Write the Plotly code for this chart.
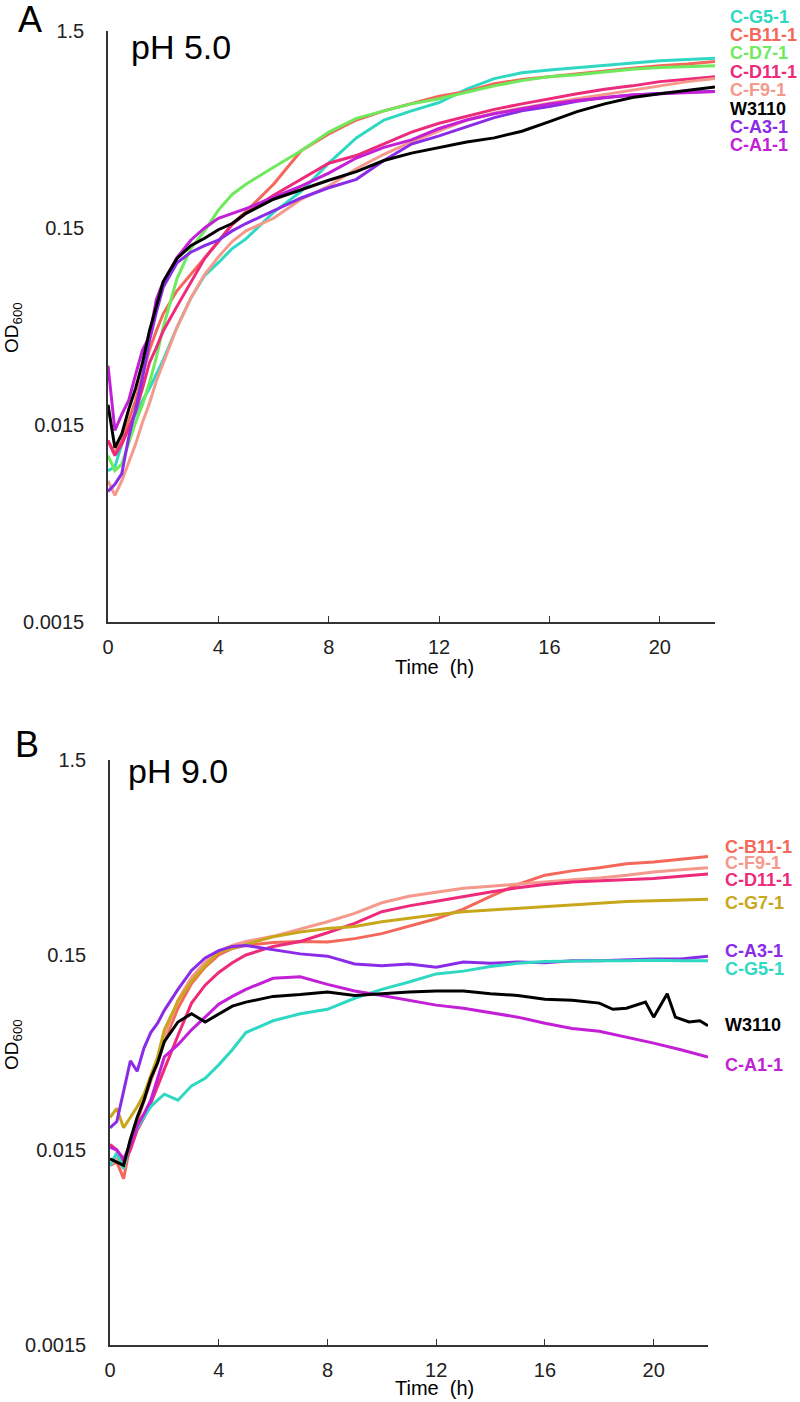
import math
import plotly.graph_objects as go

# ---------------- data ----------------
time_h = [0, 0.25, 0.5, 0.75, 1, 1.25, 1.5, 1.75, 2, 2.5, 3, 3.5, 4, 4.5, 5,
          6, 7, 8, 9, 10, 11, 12, 13, 14, 15, 16, 17, 18, 19, 20, 21, 22]

y_tick_vals = [0.0015, 0.015, 0.15, 1.5]
y_tick_text = ["0.0015", "0.015", "0.15", "1.5"]
x_tick_vals = [0, 4, 8, 12, 16, 20]

# Panel A (pH 5.0)
a_g5 = [0.0088, 0.0092, 0.012, 0.0145, 0.017, 0.020, 0.023, 0.027, 0.032, 0.047, 0.066, 0.086, 0.100, 0.118, 0.132,
        0.18, 0.23, 0.32, 0.43, 0.53, 0.59, 0.65, 0.76, 0.86, 0.92, 0.95, 0.975, 1.0, 1.03, 1.06, 1.075, 1.09]
a_b11 = [0.0125, 0.0108, 0.0125, 0.016, 0.020, 0.027, 0.036, 0.045, 0.055, 0.072, 0.087, 0.105, 0.128, 0.157, 0.182,
         0.25, 0.37, 0.45, 0.53, 0.59, 0.645, 0.70, 0.74, 0.81, 0.85, 0.88, 0.91, 0.94, 0.97, 1.0, 1.02, 1.05]
a_d7 = [0.0105, 0.0088, 0.0095, 0.012, 0.0155, 0.019, 0.0245, 0.033, 0.047, 0.083, 0.118, 0.145, 0.185, 0.222, 0.25,
        0.305, 0.37, 0.46, 0.54, 0.59, 0.64, 0.68, 0.73, 0.79, 0.84, 0.88, 0.90, 0.93, 0.96, 0.98, 0.99, 1.0]
a_d11 = [0.0125, 0.0105, 0.012, 0.0145, 0.0175, 0.023, 0.031, 0.037, 0.045, 0.060, 0.080, 0.105, 0.128, 0.156, 0.178,
         0.22, 0.265, 0.32, 0.35, 0.40, 0.46, 0.51, 0.555, 0.60, 0.64, 0.68, 0.72, 0.76, 0.79, 0.83, 0.855, 0.88]
a_f9 = [0.0078, 0.0066, 0.0078, 0.0097, 0.012, 0.0155, 0.0193, 0.025, 0.031, 0.047, 0.066, 0.087, 0.107, 0.128, 0.145,
        0.168, 0.21, 0.245, 0.30, 0.355, 0.41, 0.465, 0.53, 0.575, 0.61, 0.645, 0.68, 0.715, 0.755, 0.795, 0.83, 0.86]
a_w3110 = [0.019, 0.0115, 0.0135, 0.018, 0.023, 0.031, 0.045, 0.060, 0.080, 0.105, 0.122, 0.133, 0.147, 0.158, 0.178,
           0.21, 0.235, 0.262, 0.29, 0.33, 0.36, 0.385, 0.41, 0.43, 0.465, 0.52, 0.585, 0.64, 0.69, 0.72, 0.75, 0.78]
a_a3 = [0.0069, 0.0075, 0.0085, 0.013, 0.018, 0.026, 0.040, 0.056, 0.075, 0.100, 0.113, 0.122, 0.130, 0.145, 0.158,
        0.183, 0.213, 0.24, 0.265, 0.33, 0.40, 0.44, 0.49, 0.545, 0.59, 0.62, 0.66, 0.69, 0.71, 0.725, 0.735, 0.74]
a_a1 = [0.030, 0.0141, 0.017, 0.020, 0.027, 0.036, 0.042, 0.065, 0.080, 0.106, 0.130, 0.150, 0.168, 0.178, 0.188,
        0.215, 0.245, 0.285, 0.34, 0.385, 0.42, 0.48, 0.53, 0.57, 0.605, 0.64, 0.665, 0.69, 0.71, 0.72, 0.73, 0.74]

# Panel B (pH 9.0)
b_b11 = [0.0125, 0.013, 0.0107, 0.016, 0.021, 0.027, 0.034, 0.042, 0.054, 0.080, 0.107, 0.130, 0.150, 0.162, 0.168,
         0.174, 0.176, 0.175, 0.182, 0.193, 0.21, 0.23, 0.258, 0.30, 0.345, 0.385, 0.405, 0.42, 0.44, 0.45, 0.465, 0.48]
b_f9 = [0.0125, 0.0135, 0.012, 0.017, 0.022, 0.028, 0.035, 0.044, 0.057, 0.088, 0.115, 0.138, 0.157, 0.168, 0.176,
        0.187, 0.204, 0.222, 0.245, 0.278, 0.30, 0.315, 0.33, 0.338, 0.345, 0.355, 0.365, 0.372, 0.385, 0.40, 0.41, 0.42]
b_d11 = [0.016, 0.015, 0.0128, 0.015, 0.019, 0.022, 0.026, 0.032, 0.039, 0.058, 0.085, 0.105, 0.122, 0.137, 0.150,
         0.166, 0.176, 0.195, 0.218, 0.25, 0.268, 0.283, 0.30, 0.316, 0.332, 0.345, 0.355, 0.36, 0.365, 0.37, 0.38, 0.39]
b_g7 = [0.022, 0.0245, 0.0195, 0.022, 0.025, 0.029, 0.036, 0.045, 0.062, 0.087, 0.110, 0.132, 0.155, 0.163, 0.170,
        0.186, 0.197, 0.205, 0.21, 0.222, 0.232, 0.241, 0.25, 0.255, 0.262, 0.267, 0.272, 0.277, 0.282, 0.285, 0.288, 0.29]
b_a3 = [0.0195, 0.021, 0.030, 0.043, 0.038, 0.050, 0.060, 0.067, 0.078, 0.100, 0.125, 0.145, 0.158, 0.166, 0.168,
        0.160, 0.152, 0.148, 0.135, 0.132, 0.135, 0.130, 0.138, 0.136, 0.138, 0.137, 0.140, 0.140, 0.142, 0.143, 0.143, 0.148]
b_g5 = [0.0125, 0.0145, 0.012, 0.017, 0.0195, 0.022, 0.025, 0.027, 0.029, 0.027, 0.032, 0.035, 0.041, 0.049, 0.060,
        0.069, 0.075, 0.079, 0.090, 0.100, 0.109, 0.120, 0.124, 0.131, 0.136, 0.139, 0.140, 0.140, 0.140, 0.141, 0.140, 0.140]
b_a1 = [0.0155, 0.015, 0.0135, 0.016, 0.020, 0.023, 0.027, 0.035, 0.045, 0.052, 0.062, 0.072, 0.084, 0.092, 0.100,
        0.114, 0.116, 0.106, 0.098, 0.093, 0.088, 0.083, 0.080, 0.076, 0.072, 0.067, 0.063, 0.061, 0.057, 0.053, 0.049, 0.045]
b_w3110_time = [0, 0.25, 0.5, 0.75, 1, 1.25, 1.5, 1.75, 2, 2.5, 3, 3.5, 4, 4.5, 5, 6, 7, 8, 9, 10, 11, 12, 13,
                14, 15, 16, 17, 18, 18.5, 19, 19.7, 20.0, 20.5, 20.8, 21.3, 21.7, 22]
b_w3110 = [0.0135, 0.013, 0.0125, 0.017, 0.022, 0.027, 0.035, 0.042, 0.054, 0.068, 0.075, 0.068, 0.075, 0.082, 0.086,
           0.092, 0.094, 0.097, 0.093, 0.095, 0.097, 0.098, 0.098, 0.095, 0.093, 0.089, 0.088, 0.085, 0.079, 0.080,
           0.086, 0.072, 0.095, 0.072, 0.068, 0.069, 0.065]

# ---------------- styles ----------------
COL = {
    "C-G5-1": "#2ED8C3", "C-B11-1": "#F4675A", "C-D7-1": "#6EEA5C", "C-D11-1": "#EE2A7B",
    "C-F9-1": "#F4998B", "W3110": "#000000", "C-A3-1": "#8A2BE8", "C-A1-1": "#C21FD6",
    "C-G7-1": "#C9A71C",
}
FONT = "Arial, Liberation Sans, sans-serif"
W, H = 800, 1402


def px(x):
    return x / W


def py(y):
    return 1 - y / H


panel_a = [("C-G5-1", time_h, a_g5), ("C-B11-1", time_h, a_b11), ("C-D7-1", time_h, a_d7),
           ("C-D11-1", time_h, a_d11), ("C-F9-1", time_h, a_f9), ("C-A3-1", time_h, a_a3),
           ("C-A1-1", time_h, a_a1), ("W3110", time_h, a_w3110)]
panel_b = [("C-B11-1", time_h, b_b11), ("C-F9-1", time_h, b_f9), ("C-D11-1", time_h, b_d11),
           ("C-G7-1", time_h, b_g7), ("C-A3-1", time_h, b_a3), ("C-G5-1", time_h, b_g5),
           ("C-A1-1", time_h, b_a1), ("W3110", b_w3110_time, b_w3110)]

fig = go.Figure()
for name, t, v in panel_a:
    fig.add_trace(go.Scatter(x=t, y=v, mode="lines", name=name, xaxis="x", yaxis="y",
                             line=dict(color=COL[name], width=3), showlegend=False))
for name, t, v in panel_b:
    fig.add_trace(go.Scatter(x=t, y=v, mode="lines", name=name, xaxis="x2", yaxis="y2",
                             line=dict(color=COL[name], width=3), showlegend=False))

yrange = [math.log10(0.0015), math.log10(1.5)]
common_x = dict(range=[0, 22], tickvals=x_tick_vals, ticks="inside", ticklen=6, tickwidth=1.3,
                tickcolor="#333", showline=True, linecolor="#333", linewidth=1.6, showgrid=False,
                zeroline=False, tickfont=dict(family=FONT, size=20, color="#222"),
                ticklabelstandoff=6, automargin=False)
common_y = dict(type="log", range=yrange, tickvals=y_tick_vals, ticktext=y_tick_text, ticks="",
                showline=True, linecolor="#333", linewidth=1.6, showgrid=False, zeroline=False,
                tickfont=dict(family=FONT, size=20, color="#222"), ticklabelstandoff=18,
                automargin=False)

fig.update_layout(
    width=W, height=H, margin=dict(l=0, r=0, t=0, b=0, pad=0, autoexpand=False),
    paper_bgcolor="white", plot_bgcolor="white", showlegend=False,
    xaxis=dict(domain=[px(108), px(715)], anchor="y", **common_x),
    yaxis=dict(domain=[py(622), py(31)], anchor="x", **common_y),
    xaxis2=dict(domain=[px(110), px(708)], anchor="y2", **common_x),
    yaxis2=dict(domain=[py(1345), py(760)], anchor="x2", **common_y),
)

ann = []
# panel letters & titles
ann.append(dict(text="A", x=px(30), y=py(20), font=dict(size=36, family=FONT, color="#000")))
ann.append(dict(text="B", x=px(27), y=py(744), font=dict(size=36, family=FONT, color="#000")))
ann.append(dict(text="pH 5.0", x=px(181), y=py(47), font=dict(size=34, family=FONT, color="#000")))
ann.append(dict(text="pH 9.0", x=px(178), y=py(771), font=dict(size=34, family=FONT, color="#000")))
# axis titles
for yy in (667, 1388):
    ann.append(dict(text="Time  (h)", x=px(434), y=py(yy), font=dict(size=20, family=FONT, color="#000")))
for yy in (328, 1045):
    ann.append(dict(text="OD<sub>600</sub>", x=px(13), y=py(yy), textangle=-90,
                    font=dict(size=19, family=FONT, color="#000")))

# end labels
labels_a = [("C-G5-1", 17), ("C-B11-1", 35), ("C-D7-1", 53), ("C-D11-1", 72), ("C-F9-1", 90),
            ("W3110", 109), ("C-A3-1", 127), ("C-A1-1", 145)]
labels_b = [("C-B11-1", 847), ("C-F9-1", 863), ("C-D11-1", 880), ("C-G7-1", 903), ("C-A3-1", 951),
            ("C-G5-1", 969), ("W3110", 1025), ("C-A1-1", 1065)]
for name, yy in labels_a:
    ann.append(dict(text="<b>%s</b>" % name, x=px(728), y=py(yy), xanchor="left",
                    font=dict(size=18, family=FONT, color=COL[name])))
for name, yy in labels_b:
    ann.append(dict(text="<b>%s</b>" % name, x=px(723), y=py(yy), xanchor="left",
                    font=dict(size=18, family=FONT, color=COL[name])))

for a in ann:
    a.setdefault("xanchor", "center")
    a.update(xref="paper", yref="paper", yanchor="middle", showarrow=False)
fig.update_layout(annotations=ann)

# remove the default page margin so the 800x1402 figure fills the window exactly
fig.write_html("out.html", config={"displayModeBar": False},
               post_script="document.body.style.margin='0';")
